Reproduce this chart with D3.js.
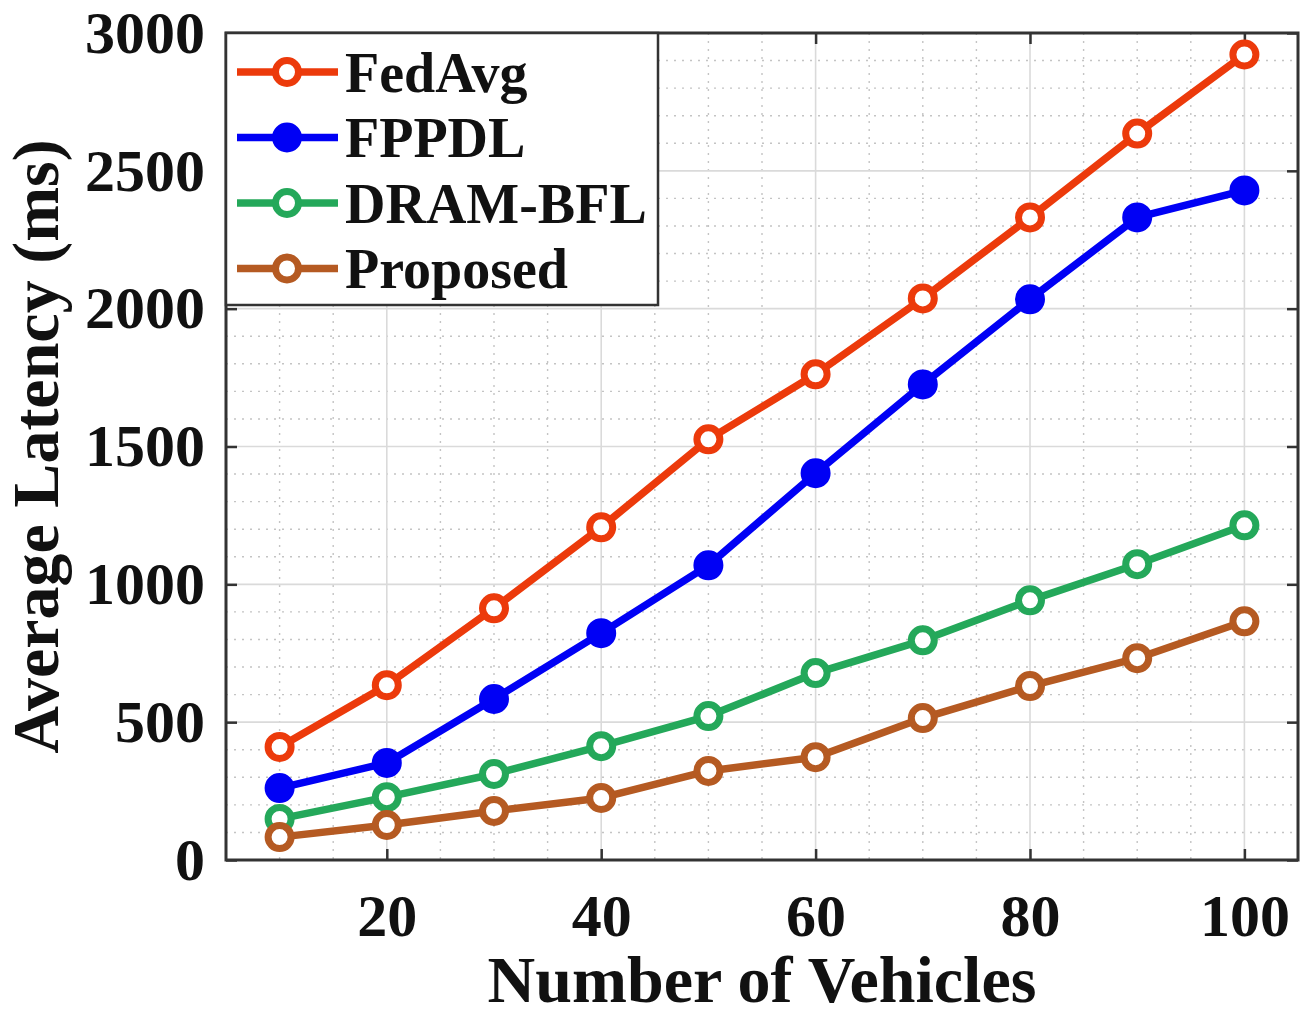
<!DOCTYPE html>
<html>
<head>
    <title></title>
    <style>
        body {
            margin: 0;
            background: #fff;
        }
        text {
            font-family: "Liberation Serif", "Times New Roman", serif;
            font-weight: bold;
            fill: #111;
        }
        .major {
            stroke: #dadada;
            stroke-width: 1.6px;
        }
        .minor {
            stroke: #c4c4c4;
            stroke-width: 1.4px;
            stroke-dasharray: 2 6;
        }
        .series {
            fill: none;
            stroke-width: 7.5px;
            stroke-linejoin: round;
        }
    </style>
</head>
<body>
<script src="https://d3js.org/d3.v7.min.js"></script>
<script>
    var width = 1307;
    var height = 1019;

    var vehicles = [10, 20, 30, 40, 50, 60, 70, 80, 90, 100];
    var fedAvg = [410, 634, 913, 1207, 1526, 1762, 2037, 2331, 2635, 2922];
    var fppdl = [261, 352, 584, 823, 1069, 1403, 1725, 2034, 2331, 2429];
    var dramBfl = [149, 228, 312, 413, 522, 678, 797, 942, 1073, 1214];
    var proposed = [83, 127, 178, 225, 323, 373, 515, 631, 732, 866];

    var xTicks = [20, 40, 60, 80, 100];
    var yTicks = [0, 500, 1000, 1500, 2000, 2500, 3000];

    var series = [
        {name: "FedAvg", values: fedAvg, color: "#ec3a0b", filled: false},
        {name: "FPPDL", values: fppdl, color: "#0000f5", filled: true},
        {name: "DRAM-BFL", values: dramBfl, color: "#24a85a", filled: false},
        {name: "Proposed", values: proposed, color: "#b55a22", filled: false}
    ];

    // plot box (top is a reserved window property, so use other names)
    var pLeft = 226, pRight = 1298, pTop = 33, pBottom = 860;

    var x = d3.scaleLinear().domain([5, 105]).range([pLeft, pRight]);
    var y = d3.scaleLinear().domain([0, 3000]).range([pBottom, pTop]);

    var svg = d3.select("body").append("svg")
            .attr("width", width)
            .attr("height", height);

    // minor grid
    var xMinor = d3.range(5, 106, 5).filter(function(v) {return v % 20 !== 0;});
    var yMinor = d3.range(0, 3001, 100).filter(function(v) {return v % 500 !== 0;});

    svg.append("g").selectAll("line").data(xMinor).enter().append("line")
            .attr("class", "minor")
            .attr("x1", x).attr("x2", x)
            .attr("y1", pTop).attr("y2", pBottom);
    svg.append("g").selectAll("line").data(yMinor).enter().append("line")
            .attr("class", "minor")
            .attr("y1", y).attr("y2", y)
            .attr("x1", pLeft).attr("x2", pRight);

    // major grid
    svg.append("g").selectAll("line").data(xTicks).enter().append("line")
            .attr("class", "major")
            .attr("x1", x).attr("x2", x)
            .attr("y1", pTop).attr("y2", pBottom);
    svg.append("g").selectAll("line").data(yTicks).enter().append("line")
            .attr("class", "major")
            .attr("y1", y).attr("y2", y)
            .attr("x1", pLeft).attr("x2", pRight);

    // axes with inward ticks
    var axisColor = "#333";
    function styleAxis(g) {
        g.select(".domain").remove();
        g.selectAll(".tick line").attr("stroke", axisColor).attr("stroke-width", 2.5);
        g.selectAll(".tick text").style("font-size", "60px").attr("fill", "#111");
    }

    svg.append("g")
            .attr("transform", "translate(0," + pBottom + ")")
            .call(d3.axisBottom(x).tickValues(xTicks).tickSizeInner(-11).tickSizeOuter(0).tickPadding(33))
            .call(styleAxis);

    svg.append("g")
            .attr("transform", "translate(0," + pTop + ")")
            .call(d3.axisTop(x).tickValues(xTicks).tickSizeInner(-11).tickSizeOuter(0).tickFormat(""))
            .call(styleAxis);

    svg.append("g")
            .attr("transform", "translate(" + pLeft + ",0)")
            .call(d3.axisLeft(y).tickValues(yTicks).tickFormat(d3.format("d")).tickSizeInner(-11).tickSizeOuter(0).tickPadding(21))
            .call(styleAxis);

    svg.append("g")
            .attr("transform", "translate(" + pRight + ",0)")
            .call(d3.axisRight(y).tickValues(yTicks).tickSizeInner(-11).tickSizeOuter(0).tickFormat(""))
            .call(styleAxis);

    // box
    svg.append("rect")
            .attr("x", pLeft).attr("y", pTop)
            .attr("width", pRight - pLeft).attr("height", pBottom - pTop)
            .attr("fill", "none")
            .attr("stroke", axisColor)
            .attr("stroke-width", 3);

    // lines
    var line = d3.line()
            .x(function(d, i) {return x(vehicles[i]);})
            .y(function(d) {return y(d);});

    var sg = svg.append("g").selectAll("g").data(series).enter().append("g");

    sg.append("path")
            .attr("class", "series")
            .attr("stroke", function(d) {return d.color;})
            .attr("d", function(d) {return line(d.values);});

    sg.selectAll("circle").data(function(d) {
        return d.values.map(function(v, i) {return {x: vehicles[i], y: v, s: d};});
    }).enter().append("circle")
            .attr("cx", function(d) {return x(d.x);})
            .attr("cy", function(d) {return y(d.y);})
            .attr("r", 11.5)
            .attr("fill", function(d) {return d.s.filled ? d.s.color : "#fff";})
            .attr("stroke", function(d) {return d.s.color;})
            .attr("stroke-width", 7);

    // legend
    var legend = svg.append("g");
    legend.append("rect")
            .attr("x", pLeft).attr("y", pTop)
            .attr("width", 432).attr("height", 272)
            .attr("fill", "#fff")
            .attr("stroke", axisColor)
            .attr("stroke-width", 2.5);

    var item = legend.selectAll("g").data(series).enter().append("g")
            .attr("transform", function(d, i) {return "translate(0," + (72 + i * 65.5) + ")";});

    item.append("line")
            .attr("x1", 237).attr("x2", 338)
            .attr("stroke", function(d) {return d.color;})
            .attr("stroke-width", 7.5);
    item.append("circle")
            .attr("cx", 287).attr("r", 11.5)
            .attr("fill", function(d) {return d.filled ? d.color : "#fff";})
            .attr("stroke", function(d) {return d.color;})
            .attr("stroke-width", 7);
    item.append("text")
            .attr("x", 345).attr("dy", "0.35em")
            .style("font-size", "56px")
            .text(function(d) {return d.name;});

    // axis titles
    svg.append("text")
            .attr("x", (pLeft + pRight) / 2).attr("y", 1002)
            .attr("text-anchor", "middle")
            .style("font-size", "66px")
            .text("Number of Vehicles");

    svg.append("text")
            .attr("transform", "translate(58," + (pTop + pBottom) / 2 + ")rotate(-90)")
            .attr("text-anchor", "middle")
            .style("font-size", "66px")
            .text("Average Latency (ms)");
</script>
</body>
</html>
